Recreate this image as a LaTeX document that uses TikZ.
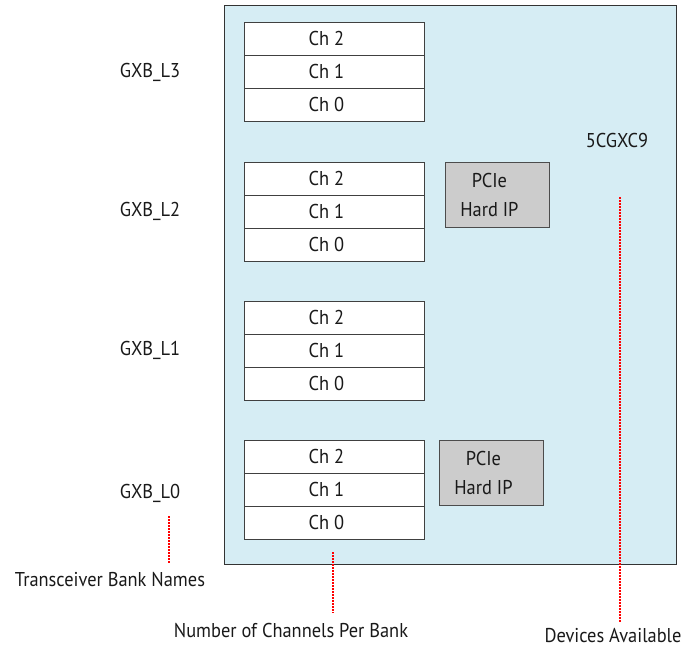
\documentclass[tikz,border=0pt]{standalone}
\usepackage{fontspec}
\setmainfont[FakeStretch=0.92]{PT Sans}
\begin{document}
\begin{tikzpicture}[x=1pt,y=-1pt,
  every node/.style={font=\fontsize{20}{23}\selectfont, text=black!90},
  chbox/.style={draw=black!75, fill=white, line width=0.9pt, minimum width=180pt, minimum height=33pt, inner sep=0pt, anchor=north west},
  pcie/.style={draw=black!70, fill=black!20, line width=0.9pt, minimum width=104pt, minimum height=65pt, inner sep=0pt, anchor=north west, align=center},
  lbl/.style={inner sep=0pt},
  reddot/.style={draw=red, line width=1.4pt, dash pattern=on 1.5pt off 1.5pt}]
\useasboundingbox (0,0) rectangle (683,653);
\newcommand{\lsh}[1]{#1\hspace*{16pt}}
\node[draw=black!80, fill={rgb,255:red,214;green,237;blue,244}, line width=0.9pt, minimum width=452pt, minimum height=559pt, anchor=north west, inner sep=0pt] (dev) at (224,5) {};
% banks
\foreach \b/\y in {3/22, 2/162, 1/301, 0/440}{
  \node[chbox] (b\b c2) at (244,\y) {\lsh{Ch 2}};
  \node[chbox] (b\b c1) at (244,\y+33) {\lsh{Ch 1}};
  \node[chbox] (b\b c0) at (244,\y+66) {\lsh{Ch 0}};
}
\node[pcie] (p2) at (445,162) {\lsh{PCIe}\\[6pt]\lsh{Hard IP}};
\node[pcie] (p0) at (439,440) {\lsh{PCIe}\\[6pt]\lsh{Hard IP}};
\node[lbl] (g3) at (150,72) {GXB\_L3};
\node[lbl] (g2) at (150,211) {GXB\_L2};
\node[lbl] (g1) at (150,350) {GXB\_L1};
\node[lbl] (g0) at (150,493) {GXB\_L0};
\node[lbl] (dn) at (617,140) {5CGXC9};
\node[lbl] (tbn) at (110,580) {Transceiver Bank Names};
\node[lbl] (ncp) at (291,630) {Number of Channels Per Bank};
\node[lbl] (da) at (613,636) {Devices Available};
\coordinate (d1) at (169,516);
\coordinate (d2) at (333,552);
\coordinate (d3) at (620,197);
\draw[reddot] (d1) -- (169,564);
\draw[reddot] (d2) -- (333,613);
\draw[reddot] (d3) -- (620,622);
\end{tikzpicture}
\end{document}
